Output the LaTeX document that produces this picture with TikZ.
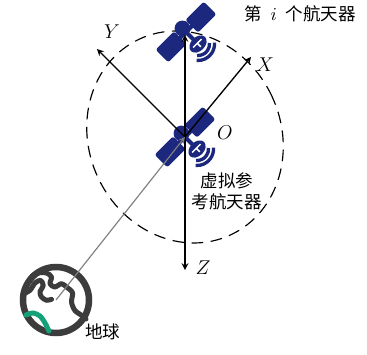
\documentclass[tikz,border=0pt,12pt]{standalone}
\usepackage{amsmath}
\usepackage{fontspec}
\newfontfamily\cjk{Noto Sans CJK SC}

\definecolor{satblue}{RGB}{27,40,125}
\definecolor{earthgray}{RGB}{60,60,60}
\definecolor{earthgreen}{RGB}{20,160,120}

\tikzset{
	axis/.style={-stealth, line width=0.8pt},
	axislabel/.style={font=\fontsize{12}{14}\selectfont},
	cjktext/.style={font=\cjk\fontsize{10.5}{12.6}\selectfont},
	% small satellite icon, panels along the diagonal
	satellite/.pic={
		\begin{scope}[rotate=45]
			\fill[satblue, rounded corners=1.5pt] (8,-9) rectangle (34,9);
			\fill[satblue, rounded corners=1.5pt] (-34,-9) rectangle (-8,9);
			\fill[satblue] (-9,-2) rectangle (9,2);
			\fill[satblue, rounded corners=5pt] (-8,-3) rectangle (8,13);
			\fill[satblue] (-2,-2) rectangle (2,-12);
			\fill[satblue] (0,-17) ellipse [x radius=10, y radius=7];
			\draw[white, line width=0.9pt] (-6,-16) -- (6,-16) (0,-16) -- (0,-21);
			\draw[satblue, line width=2pt] (0,-17) ++(-140:11.5) arc[start angle=-140, end angle=-40, radius=11.5];
			\draw[satblue, line width=2pt] (0,-17) ++(-140:16.5) arc[start angle=-140, end angle=-40, radius=16.5];
		\end{scope}
	},
	% earth icon
	earthicon/.pic={
		\draw[earthgray, line width=3.9pt] (0,0) circle[radius=33];
		\draw[earthgray, line width=3pt, line cap=round, line join=round]
			plot[smooth] coordinates {(-33,6) (-26,9.7) (-21,17) (-15.5,19.7) (-12.8,14.7) (-16,8) (-14.5,3) (-9.5,-0.3) (-4.5,0.7)};
		\draw[earthgray, line width=3pt, line cap=round, line join=round]
			plot[smooth] coordinates {(-24,24) (-17.8,27) (-9.5,27) (-4.5,23) (-6,16.3) (-1.2,13) (5.5,16.3) (10.5,13) (16.5,7.3) (15.5,-2) (18.8,-10.3) (25.5,-15.3) (30,-19)};
		\draw[earthgreen, line width=3pt, line cap=round]
			plot[smooth] coordinates {(-30,-15) (-23,-13) (-16,-16) (-11,-23) (-7,-31)};
	}
}

\begin{document}
\begin{tikzpicture}[x=0.6pt,y=0.6pt]
	\useasboundingbox (-185,-217) rectangle (182,137);
	
	\coordinate (O) at (0,0);
	\coordinate (sat) at (0,102);
	\coordinate (X) at (66,80);
	\coordinate (Y) at (-88,88);
	\coordinate (Z) at (0,-133);
	\coordinate (earth) at (-129,-163);
	
	\draw[dash pattern=on 7pt off 4.5pt, line width=0.7pt, rotate=25] (O) ellipse [x radius=96, y radius=108];
	
	\pic at (O) {satellite};
	\pic at (1,105) {satellite};
	\pic at (earth) {earthicon};
	
	\draw[axis] (O) -- (sat);
	\draw[axis] (O) -- (X);
	\draw[axis] (O) -- (Y);
	\draw[axis] (O) -- (Z);
	\draw[-stealth, gray, line width=0.7pt] (earth) -- (O);
	
	\node[axislabel] (lx) at (80,72) {$X$};
	\node[axislabel] (ly) at (-73,105) {$Y$};
	\node[axislabel] (lz) at (18,-131) {$Z$};
	\node[axislabel] (lo) at (40,4) {$O$};
	\node[cjktext] (li) at (115,123) {第\hspace{0.5em}$i$\hspace{0.5em}个航天器};
	\node[cjktext, align=center] (lref) at (42,-54) {虚拟参\\考航天器};
	\node[cjktext] (le) at (-82,-195) {地球};
	
\end{tikzpicture}
\end{document}
